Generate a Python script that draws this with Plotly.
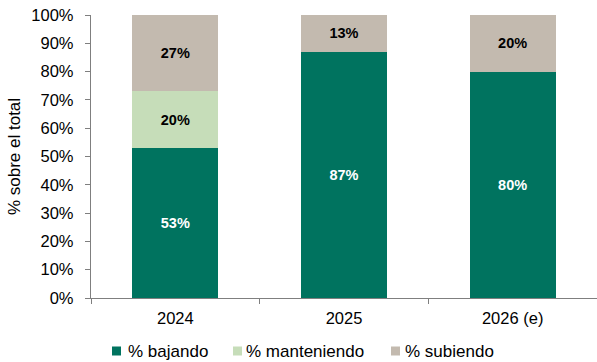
import plotly.graph_objects as go

# Share of respondents by expected direction, per year
years = ["2024", "2025", "2026 (e)"]
bajando = [53, 87, 80]
manteniendo = [20, 0, 0]
subiendo = [27, 13, 20]
y_ticks = [0, 10, 20, 30, 40, 50, 60, 70, 80, 90, 100]

FONT = "Liberation Sans, Arial, sans-serif"
W, H = 597, 362
M_L, M_R, M_T, M_B = 91, 0, 15, 64

series = [
    ("% bajando", bajando, "#00735F", "white"),
    ("% manteniendo", manteniendo, "#C6DDB9", "black"),
    ("% subiendo", subiendo, "#C3BAAF", "black"),
]

fig = go.Figure()
for name, vals, color, txtcolor in series:
    fig.add_trace(go.Bar(
        x=years,
        y=vals,
        name=name,
        showlegend=False,
        marker=dict(color=color, line=dict(width=0)),
        text=[f"{v}%" if v else "" for v in vals],
        textposition="inside",
        insidetextanchor="middle",
        textangle=0,
        textfont=dict(family=FONT, size=14.5, color=txtcolor, weight="bold"),
        width=0.51,
        hoverinfo="skip",
    ))


def px_to_paper(px, py):
    """Convert page pixel coordinates to paper coordinates of the plot area."""
    pw = W - M_L - M_R
    ph = H - M_T - M_B
    return (px - M_L) / pw, (H - M_B - py) / ph


# Compact legend below the chart: small square swatch followed by its label
legend_slots = [(112, 126), (233, 244), (391, 403)]
legend_y = 351
for (sq_x, txt_x), (name, _, color, _) in zip(legend_slots, series):
    x0, y0 = px_to_paper(sq_x, legend_y + 4.5)
    x1, y1 = px_to_paper(sq_x + 9, legend_y - 4.5)
    fig.add_shape(type="rect", xref="paper", yref="paper",
                  x0=x0, y0=y0, x1=x1, y1=y1,
                  fillcolor=color, line=dict(width=0))
    tx, ty = px_to_paper(txt_x, legend_y)
    fig.add_annotation(xref="paper", yref="paper", x=tx, y=ty,
                       xanchor="left", yanchor="middle", text=name,
                       showarrow=False, font=dict(family=FONT, size=17, color="black"))

fig.update_layout(
    barmode="stack",
    width=W,
    height=H,
    margin=dict(l=M_L, r=M_R, t=M_T, b=M_B, autoexpand=False),
    paper_bgcolor="white",
    plot_bgcolor="white",
    font=dict(family=FONT, size=17, color="black"),
    showlegend=False,
)

fig.update_xaxes(
    showline=True, linecolor="#7f7f7f", linewidth=1.3,
    ticks="outside", tickson="boundaries", ticklen=5, tickcolor="#7f7f7f",
    showgrid=False,
    tickfont=dict(size=16.5),
    ticklabelstandoff=5,
)
fig.update_yaxes(
    range=[0, 100],
    tickvals=y_ticks,
    ticktext=[f"{v}%" for v in y_ticks],
    showline=True, linecolor="#7f7f7f", linewidth=1.3,
    ticks="outside", ticklen=5, tickcolor="#7f7f7f",
    showgrid=False, zeroline=False,
    tickfont=dict(size=16.5),
    ticklabelstandoff=8,
    title=dict(text="% sobre el total", font=dict(size=17), standoff=6),
)

fig.write_html("out.html")
